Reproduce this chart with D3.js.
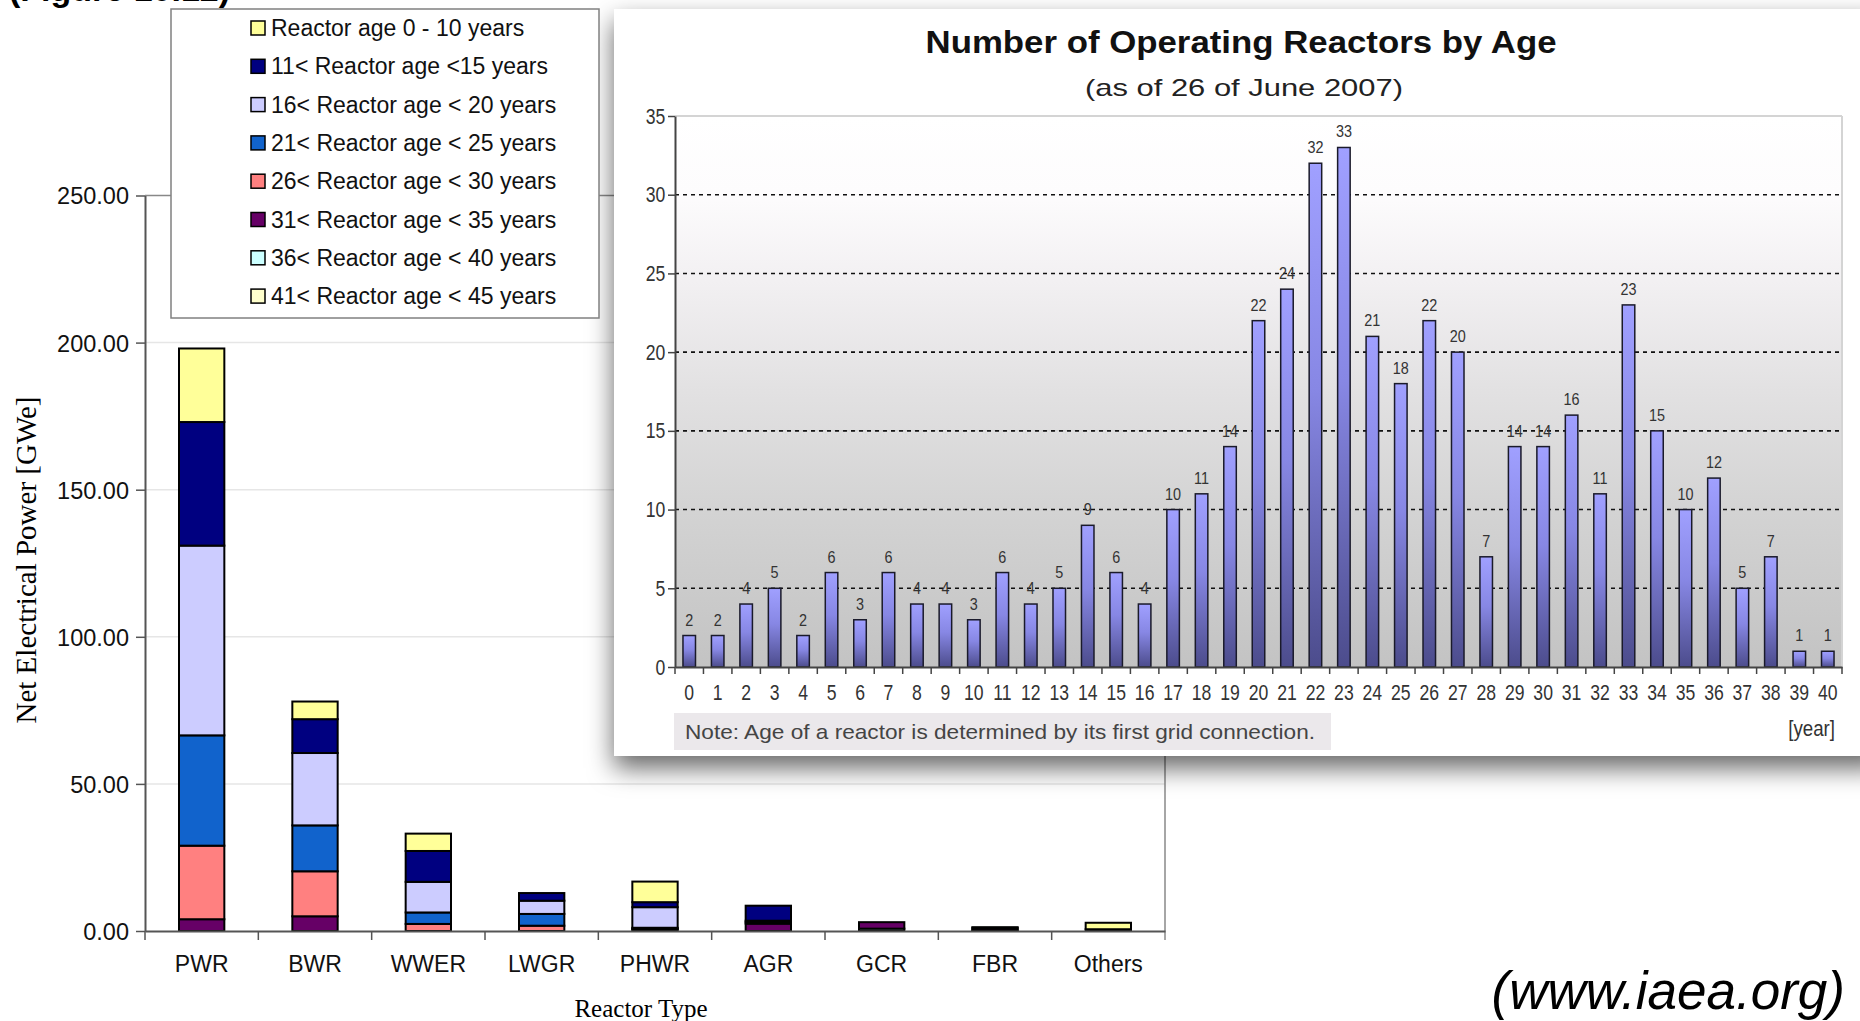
<!DOCTYPE html>
<html>
<head>
<meta charset="utf-8">
<script src="https://cdn.jsdelivr.net/npm/d3@7"></script>
<style>
  body { margin: 0; background: #fff; overflow: hidden; }
  svg { display: block; }
  text { font-family: "Liberation Sans", Arial, sans-serif; }
</style>
</head>
<body>
<div id="chart"></div>
<script>

// ---- left chart: net electrical power by reactor type, stacked by age group
var reactorTypes = ['PWR', 'BWR', 'WWER', 'LWGR', 'PHWR', 'AGR', 'GCR', 'FBR', 'Others'];

var ageGroupLabels = ['Reactor age 0 - 10 years', '11< Reactor age <15 years', '16< Reactor age < 20 years',
    '21< Reactor age < 25 years', '26< Reactor age < 30 years', '31< Reactor age < 35 years',
    '36< Reactor age < 40 years', '41< Reactor age < 45 years'];
var ageGroupColors = ['#ffff99', '#000080', '#ccccff', '#1163cc', '#ff8080', '#660066', '#ccffff', '#ffffcc'];

// GWe, one value per reactor type
var age0to10  = [25.0, 6.0, 5.9, 0, 7.0, 0, 0, 0, 2.2];
var age11to15 = [42.0, 11.5, 10.5, 2.6, 1.7, 5.1, 0, 0, 0];
var age16to20 = [64.5, 24.6, 10.4, 4.5, 7.0, 0, 0, 0, 0];
var age21to25 = [37.5, 15.6, 3.9, 4.0, 0.3, 0.5, 0, 0, 0];
var age26to30 = [25.0, 15.3, 2.4, 1.8, 0.3, 0.5, 0, 0.3, 0];
var age31to35 = [4.0, 5.0, 0, 0, 0.5, 2.5, 2.2, 0.7, 0.6];
var age36to40 = [0, 0, 0, 0, 0, 0, 0.8, 0.3, 0];
var age41to45 = [0, 0, 0, 0, 0, 0, 0, 0, 0];

var powerTicks = [0, 50, 100, 150, 200, 250];

// ---- inset chart: number of operating reactors by age
var reactorAges = [0, 1, 2, 3, 4, 5, 6, 7, 8, 9, 10, 11, 12, 13, 14, 15, 16, 17, 18, 19, 20,
    21, 22, 23, 24, 25, 26, 27, 28, 29, 30, 31, 32, 33, 34, 35, 36, 37, 38, 39, 40];
var reactorCounts = [2, 2, 4, 5, 2, 6, 3, 6, 4, 4, 3, 6, 4, 5, 9, 6, 4, 10, 11, 14, 22,
    24, 32, 33, 21, 18, 22, 20, 7, 14, 14, 16, 11, 23, 15, 10, 12, 5, 7, 1, 1];
var countTicks = [0, 5, 10, 15, 20, 25, 30, 35];


var width = 1860, height = 1021;

var svg = d3.select('#chart')
    .append('svg')
      .attr('width', width)
      .attr('height', height);

var defs = svg.append('defs');

var shadow = defs.append('filter').attr('id', 'shadow')
    .attr('x', '-5%').attr('y', '-5%').attr('width', '110%').attr('height', '120%');
shadow.append('feDropShadow')
    .attr('dx', 0).attr('dy', 12).attr('stdDeviation', 13)
    .attr('flood-color', '#000').attr('flood-opacity', 0.6);

var bg = defs.append('linearGradient').attr('id', 'plotBg')
    .attr('x1', 0).attr('y1', 0).attr('x2', 0).attr('y2', 1);
[[0, '#ffffff'], [0.14, '#fdfcfd'], [0.3, '#f2f0f2'], [0.5, '#e2e1e2'], [0.72, '#d3d3d3'], [1, '#c3c3c3']]
    .forEach(function(s) { bg.append('stop').attr('offset', s[0]).attr('stop-color', s[1]); });

var barGrad = defs.append('linearGradient').attr('id', 'barGrad')
    .attr('x1', 0).attr('y1', 0).attr('x2', 0).attr('y2', 1);
[[0, '#a0a0ff'], [0.45, '#8787e4'], [1, '#4c4c8c']]
    .forEach(function(s) { barGrad.append('stop').attr('offset', s[0]).attr('stop-color', s[1]); });


// caption of the page, cut by the top edge (only its lowest part shows)
svg.append('text')
    .attr('x', 9).attr('y', 1)
    .style('font-size', '34px').style('font-weight', 'bold')
    .text('(Figure 10.12)');


// ================= left chart =================
var lx0 = 145, lx1 = 1165, ly0 = 931, ly1 = 195.5;

var xType = d3.scaleBand().domain(reactorTypes).range([lx0, lx1]).paddingInner(0.6).paddingOuter(0.3);
var yPower = d3.scaleLinear().domain([0, 250]).range([ly0, ly1]);

var series = [age0to10, age11to15, age16to20, age21to25, age26to30, age31to35, age36to40, age41to45];
var powerTable = reactorTypes.map(function(t, i) {
    var row = {type: t};
    series.forEach(function(s, k) { row['g' + k] = s[i]; });
    return row;
});
var stackKeys = ['g7', 'g6', 'g5', 'g4', 'g3', 'g2', 'g1', 'g0'];

svg.append('g')
    .selectAll('line')
    .data(powerTicks.filter(function(d) { return d > 0 && d < 250; }))
    .enter()
    .append('line')
      .attr('x1', lx0).attr('x2', lx1)
      .attr('y1', function(d) { return yPower(d); })
      .attr('y2', function(d) { return yPower(d); })
      .attr('stroke', '#e6e6e6').attr('stroke-width', 1.5);

// plot frame: top and right
svg.append('line')
    .attr('x1', lx0).attr('x2', lx1).attr('y1', ly1).attr('y2', ly1)
    .attr('stroke', '#888').attr('stroke-width', 1.5);
svg.append('line')
    .attr('x1', lx1).attr('x2', lx1).attr('y1', ly1).attr('y2', ly0 + 9)
    .attr('stroke', '#888').attr('stroke-width', 1.5);

svg.append('g')
    .selectAll('g')
    .data(d3.stack().keys(stackKeys)(powerTable))
    .enter()
    .append('g')
      .attr('fill', function(d) { return ageGroupColors[+d.key.slice(1)]; })
    .selectAll('rect')
    .data(function(d) { return d.filter(function(s) { return s[1] - s[0] > 0; }); })
    .enter()
    .append('rect')
      .attr('x', function(d) { return xType(d.data.type); })
      .attr('width', xType.bandwidth())
      .attr('y', function(d) { return yPower(d[1]); })
      .attr('height', function(d) { return yPower(d[0]) - yPower(d[1]); })
      .attr('stroke', '#000').attr('stroke-width', 2);

var leftAxis = svg.append('g')
    .attr('transform', 'translate(' + lx0 + ',0)')
    .call(d3.axisLeft(yPower).tickValues(powerTicks).tickFormat(d3.format('.2f'))
        .tickSize(9).tickSizeOuter(0).tickPadding(7));
leftAxis.select('.domain').attr('stroke', '#555').attr('stroke-width', 2);
leftAxis.selectAll('.tick line').attr('stroke', '#555').attr('stroke-width', 1.5);
leftAxis.selectAll('text').style('font-size', '23.5px').attr('fill', '#111').attr('dy', '0.36em');

var bottomAxis = svg.append('g')
    .attr('transform', 'translate(0,' + ly0 + ')')
    .call(d3.axisBottom(xType).tickSize(0).tickSizeOuter(0).tickPadding(25));
bottomAxis.select('.domain').attr('stroke', '#555').attr('stroke-width', 2);
bottomAxis.selectAll('text').style('font-size', '23px').attr('fill', '#111');

svg.append('g')
    .selectAll('line')
    .data(reactorTypes)
    .enter()
    .append('line')
      .attr('x1', function(d) { return xType(d) - xType.step() * xType.paddingInner() / 2; })
      .attr('x2', function(d) { return xType(d) - xType.step() * xType.paddingInner() / 2; })
      .attr('y1', ly0).attr('y2', ly0 + 9)
      .attr('stroke', '#555').attr('stroke-width', 1.5);

svg.append('text')
    .attr('transform', 'translate(36,560) rotate(-90)')
    .attr('text-anchor', 'middle')
    .style('font-family', '"Liberation Serif", "Times New Roman", serif')
    .style('font-size', '29px')
    .text('Net Electrical Power [GWe]');

svg.append('text')
    .attr('x', 641).attr('y', 1017)
    .attr('text-anchor', 'middle')
    .style('font-family', '"Liberation Serif", "Times New Roman", serif')
    .style('font-size', '25px')
    .text('Reactor Type');


// ================= inset panel =================
svg.append('rect')
    .attr('x', 614).attr('y', 9).attr('width', 1270).attr('height', 747)
    .attr('fill', '#fff')
    .attr('filter', 'url(#shadow)');

var rx0 = 675, rx1 = 1842, ry0 = 667, ry1 = 116;

var xAge = d3.scaleBand().domain(reactorAges).range([rx0, rx1]).paddingInner(0.56).paddingOuter(0.28);
var yCount = d3.scaleLinear().domain([0, 35]).range([ry0, ry1]);

svg.append('rect')
    .attr('x', rx0).attr('y', ry1).attr('width', rx1 - rx0).attr('height', ry0 - ry1)
    .attr('fill', 'url(#plotBg)');

svg.append('line')
    .attr('x1', rx0).attr('x2', rx1).attr('y1', ry1).attr('y2', ry1)
    .attr('stroke', '#d4d4d4').attr('stroke-width', 2);
svg.append('line')
    .attr('x1', rx1).attr('x2', rx1).attr('y1', ry1).attr('y2', ry0)
    .attr('stroke', '#d4d4d4').attr('stroke-width', 2);

svg.append('g')
    .selectAll('line')
    .data(countTicks.filter(function(d) { return d > 0 && d < 35; }))
    .enter()
    .append('line')
      .attr('x1', rx0).attr('x2', rx1)
      .attr('y1', function(d) { return yCount(d); })
      .attr('y2', function(d) { return yCount(d); })
      .attr('stroke', '#111').attr('stroke-width', 1.6)
      .attr('stroke-dasharray', '4,4');

svg.append('g')
    .selectAll('rect')
    .data(reactorAges)
    .enter()
    .append('rect')
      .attr('x', function(d) { return xAge(d); })
      .attr('width', xAge.bandwidth())
      .attr('y', function(d, i) { return yCount(reactorCounts[i]); })
      .attr('height', function(d, i) { return ry0 - yCount(reactorCounts[i]); })
      .attr('fill', 'url(#barGrad)')
      .attr('stroke', '#1a1a2a').attr('stroke-width', 1.5);

svg.append('g')
    .selectAll('text')
    .data(reactorAges)
    .enter()
    .append('text')
      .attr('transform', function(d, i) {
          return 'translate(' + (xAge(d) + xAge.bandwidth() / 2) + ',' + (yCount(reactorCounts[i]) - 10) + ') scale(0.9,1)';
      })
      .attr('text-anchor', 'middle')
      .style('font-size', '16px')
      .attr('fill', '#333')
      .text(function(d, i) { return reactorCounts[i]; });

var countAxis = svg.append('g')
    .attr('transform', 'translate(' + rx0 + ',0)')
    .call(d3.axisLeft(yCount).tickValues(countTicks).tickSize(7).tickSizeOuter(0).tickPadding(5));
countAxis.select('.domain').attr('stroke', '#444').attr('stroke-width', 2);
countAxis.selectAll('.tick line').attr('stroke', '#444').attr('stroke-width', 1.5);
countAxis.selectAll('text').style('font-size', '22px').attr('fill', '#333').attr('transform', 'scale(0.8,1)');

var ageAxis = svg.append('g')
    .attr('transform', 'translate(0,' + ry0 + ')')
    .call(d3.axisBottom(xAge).tickSize(0).tickSizeOuter(0).tickPadding(17));
ageAxis.select('.domain').attr('stroke', '#444').attr('stroke-width', 2);
ageAxis.selectAll('text').style('font-size', '22px').attr('fill', '#333').attr('transform', 'scale(0.8,1)');

svg.append('g')
    .selectAll('line')
    .data(reactorAges)
    .enter()
    .append('line')
      .attr('x1', function(d) { return xAge(d) - xAge.step() * xAge.paddingInner() / 2; })
      .attr('x2', function(d) { return xAge(d) - xAge.step() * xAge.paddingInner() / 2; })
      .attr('y1', ry0).attr('y2', ry0 + 7)
      .attr('stroke', '#444').attr('stroke-width', 1.5);
svg.append('line')
    .attr('x1', rx1).attr('x2', rx1).attr('y1', ry0).attr('y2', ry0 + 7)
    .attr('stroke', '#444').attr('stroke-width', 1.5);

svg.append('text')
    .attr('x', 1241).attr('y', 53)
    .attr('text-anchor', 'middle')
    .attr('textLength', 631).attr('lengthAdjust', 'spacingAndGlyphs')
    .style('font-size', '31px').style('font-weight', 'bold')
    .attr('fill', '#111')
    .text('Number of Operating Reactors by Age');

svg.append('text')
    .attr('x', 1244).attr('y', 96)
    .attr('text-anchor', 'middle')
    .attr('textLength', 318).attr('lengthAdjust', 'spacingAndGlyphs')
    .style('font-size', '24px')
    .attr('fill', '#222')
    .text('(as of 26 of June 2007)');

svg.append('rect')
    .attr('x', 674).attr('y', 713).attr('width', 657).attr('height', 37)
    .attr('fill', '#ebe8eb');
svg.append('text')
    .attr('x', 685).attr('y', 739)
    .attr('textLength', 630).attr('lengthAdjust', 'spacingAndGlyphs')
    .style('font-size', '21px')
    .attr('fill', '#444')
    .text('Note: Age of a reactor is determined by its first grid connection.');

svg.append('text')
    .attr('transform', 'translate(1835,736) scale(0.85,1)')
    .attr('text-anchor', 'end')
    .style('font-size', '22px')
    .attr('fill', '#333')
    .text('[year]');


// ================= legend of the left chart =================
var legend = svg.append('g');
legend.append('rect')
    .attr('x', 171).attr('y', 9).attr('width', 428).attr('height', 309)
    .attr('fill', '#fff').attr('stroke', '#808080').attr('stroke-width', 1.5);

var rows = legend.selectAll('g')
    .data(ageGroupLabels)
    .enter()
    .append('g')
      .attr('transform', function(d, i) { return 'translate(0,' + (28 + i * 38.3) + ')'; });
rows.append('rect')
    .attr('x', 251).attr('y', -7).attr('width', 14).attr('height', 14)
    .attr('fill', function(d, i) { return ageGroupColors[i]; })
    .attr('stroke', '#000').attr('stroke-width', 1.5);
rows.append('text')
    .attr('x', 271).attr('y', 8)
    .style('font-size', '23px')
    .attr('fill', '#111')
    .text(function(d) { return d; });


svg.append('text')
    .attr('x', 1845).attr('y', 1009)
    .attr('text-anchor', 'end')
    .style('font-size', '53px').style('font-style', 'italic')
    .attr('fill', '#000')
    .text('(www.iaea.org)');

</script>
</body>
</html>
